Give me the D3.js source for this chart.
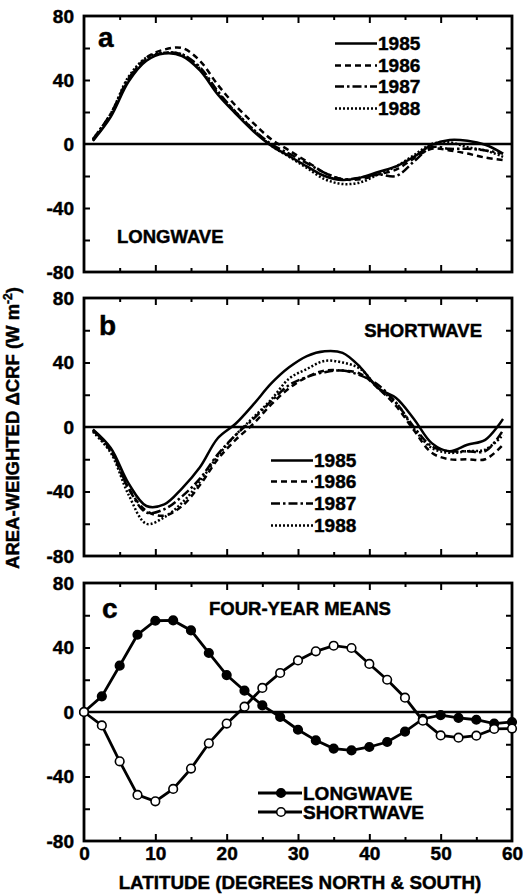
<!DOCTYPE html>
<html><head><meta charset="utf-8">
<script src="https://cdn.jsdelivr.net/npm/d3@7"></script>
<style>
body{margin:0;background:#fff}
svg{display:block}
text{font-family:"Liberation Sans",Arial,Helvetica,sans-serif;font-weight:bold;fill:#000;stroke:#000;stroke-width:0.45px}
</style>
</head><body>
<svg id="chart" width="529" height="896"></svg>
<script>
// ---------- data ----------
const yearLats = [1.25,3.75,6.25,8.75,11.25,13.75,16.25,18.75,21.25,23.75,26.25,28.75,31.25,33.75,36.25,38.75,41.25,43.75,46.25,48.75,51.25,53.75,56.25,58.75];
const years = ["1985","1986","1987","1988"];

const lw1985 = [2,17,39,52,56.5,55,46,31,19,8,-1,-7.5,-14,-20,-22.5,-21,-17.5,-14,-8,-0.5,2.5,2,-0.5,-6];
const lw1986 = [2,18,40,54,59,60,52,37,24,13,3,-4,-11,-18,-22,-22,-19,-16,-9,-3,-4,-6,-8.5,-10];
const lw1987 = [3,19,41,53,57,56,48,33,20,9,0,-6,-12,-18,-22,-21,-19,-20,-11,-2,-3,-3,-4,-6];
const lw1988 = [3,19,42,54,57,56,47,32,20,9,-1,-8,-15,-22,-25,-24,-19,-14,-7,0,1,-2,-4,-8];

const sw1985 = [-1.5,-13,-35,-49,-48,-38,-25,-7,2,14,27,37,44,47,46,37,24,18,5,-10,-15,-11,-8,5];
const sw1986 = [-2,-15,-38,-52,-55,-49,-36,-20,-8,2,14,24,31,35,35,33,24,13,-2,-16,-20,-20,-20,-11];
const sw1987 = [-2,-14,-38,-53,-51,-43,-32,-17,-5,5,16,26,31,34,35,32,26,15,0,-12,-15,-15,-15,-2];
const sw1988 = [-3,-16,-42,-60,-56,-47,-34,-18,-5,6,17,30,36,41,40,36,24,15,-1,-13,-16,-15,-14,-5];

const meanLats = [0,2.5,5,7.5,10,12.5,15,17.5,20,22.5,25,27.5,30,32.5,35,37.5,40,42.5,45,47.5,50,52.5,55,57.5,60];
const lwMean = [0,9.7,28.7,47.9,56.6,56.8,50.6,36.6,22.9,13.2,4.1,-3.1,-11,-17.6,-22.7,-23.8,-21.7,-18.6,-12.2,-4.3,-1.9,-3.7,-4.8,-7.2,-6.2];
const swMean = [0,-8.3,-30.6,-51.4,-55.4,-47.7,-35.1,-19.4,-7.2,3.3,14.9,24.2,32,37.6,41.1,39.7,29.8,20,8.9,-5.4,-14.5,-15.9,-14.7,-10.5,-10.3];

const yTickLabels = [80,40,0,-40,-80];
const xTickLabels = [0,10,20,30,40,50,60];
const panelLetters = ["a","b","c"];
const panelTitles = ["LONGWAVE","SHORTWAVE","FOUR-YEAR MEANS"];
const meanNames = ["LONGWAVE","SHORTWAVE"];

// ---------- layout ----------
const svg = d3.select("#chart");
const x = d3.scaleLinear().domain([0,60]).range([84,512]);
const panels = [
  {y: d3.scaleLinear().domain([-80,80]).range([272,16])},
  {y: d3.scaleLinear().domain([-80,80]).range([556,298])},
  {y: d3.scaleLinear().domain([-80,80]).range([841,583])}
];
const dashes = [null,"6,4","9,3,2.5,3","2,2"];
const styleText = sel => sel.attr("font-size",19).attr("font-family","Liberation Sans, Arial, sans-serif")
  .attr("font-weight","bold").attr("fill","#000");

panels.forEach((p,i)=>{
  const g = svg.append("g");
  const y = p.y;
  const top = y(80), bot = y(-80);
  const ax = (axis, tr) => {
    const a = g.append("g").attr("transform", tr).call(axis);
    a.select(".domain").remove();
    a.selectAll("line").attr("stroke","#000").attr("stroke-width",2);
    return a;
  };
  const minorX = d3.range(5,60,10);
  const majorX = d3.range(10,60,10);
  ax(d3.axisBottom(x).tickValues(majorX).tickSize(-7).tickFormat(""), `translate(0,${bot})`);
  ax(d3.axisBottom(x).tickValues(minorX).tickSize(-4).tickFormat(""), `translate(0,${bot})`);
  ax(d3.axisTop(x).tickValues(majorX).tickSize(-7).tickFormat(""), `translate(0,${top})`);
  ax(d3.axisTop(x).tickValues(minorX).tickSize(-4).tickFormat(""), `translate(0,${top})`);
  const yt = [-60,-40,-20,20,40,60];
  ax(d3.axisLeft(y).tickValues(yt).tickSize(-6).tickFormat(""), `translate(${x(0)},0)`);
  ax(d3.axisRight(y).tickValues(yt).tickSize(-6).tickFormat(""), `translate(${x(60)},0)`);
  const yl = g.append("g").attr("transform",`translate(${x(0)},0)`)
    .call(d3.axisLeft(y).tickValues(yTickLabels).tickSize(0).tickPadding(10).tickFormat(d=>d<0?"-"+Math.abs(d):d));
  yl.select(".domain").remove();
  styleText(yl.selectAll("text"));
  if(i===2){
    const xl = g.append("g").attr("transform",`translate(0,${bot})`)
      .call(d3.axisBottom(x).tickValues(xTickLabels).tickSize(0).tickPadding(6));
    xl.select(".domain").remove();
    styleText(xl.selectAll("text"));
  }
  g.append("line").attr("x1",x(0)).attr("x2",x(60)).attr("y1",y(0)).attr("y2",y(0))
    .attr("stroke","#000").attr("stroke-width",2.3);
  g.append("rect").attr("x",x(0)).attr("y",top).attr("width",x(60)-x(0)).attr("height",bot-top)
    .attr("fill","none").attr("stroke","#000").attr("stroke-width",2.8);
});

// panel letters & titles
const letterPos = [[98,47],[99,335],[102,618]];
panelLetters.forEach((l,i)=>{
  svg.append("text").attr("x",letterPos[i][0]).attr("y",letterPos[i][1]).attr("font-size",28).text(l);
});
const titlePos = [[117,243,"start"],[482,337,"end"],[300,615,"middle"]];
panelTitles.forEach((t,i)=>{
  svg.append("text").attr("x",titlePos[i][0]).attr("y",titlePos[i][1]).attr("text-anchor",titlePos[i][2]).attr("font-size",18.5).text(t);
});

// year curves
const line = (y)=>d3.line().x(d=>x(d[0])).y(d=>y(d[1])).curve(d3.curveCatmullRom);
const lwYears = [lw1985,lw1986,lw1987,lw1988];
const swYears = [sw1985,sw1986,sw1987,sw1988];
[lwYears, swYears].forEach((set,pi)=>{
  const y = panels[pi].y;
  set.map((vals,k)=>({vals,k})).reverse().forEach(({vals,k})=>{
    svg.append("path").attr("d", line(y)(yearLats.map((la,j)=>[la,vals[j]])))
      .attr("fill","none").attr("stroke","#000").attr("stroke-width",2.5)
      .attr("stroke-dasharray",dashes[k]);
  });
});

// legends for a & b
const legA = {x1:335,x2:377,tx:378,rows:[50,72,93,115]};
const legB = {x1:271,x2:313,tx:314,rows:[467,488,510,532]};
[legA,legB].forEach(L=>{
  years.forEach((yr,k)=>{
    const cy = L.rows[k]-6.5;
    svg.append("line").attr("x1",L.x1).attr("x2",L.x2).attr("y1",cy).attr("y2",cy)
      .attr("stroke","#000").attr("stroke-width",2.4).attr("stroke-dasharray",dashes[k]);
    svg.append("text").attr("x",L.tx).attr("y",L.rows[k]).attr("font-size",19).text(yr);
  });
});

// panel c means
const yc = panels[2].y;
const lineC = d3.line().x(d=>x(d[0])).y(d=>yc(d[1]));
const meanSets = [{vals:lwMean,fill:"#000"},{vals:swMean,fill:"#fff"}];
meanSets.forEach(s=>{
  const pts = meanLats.map((la,j)=>[la,s.vals[j]]);
  svg.append("path").attr("d",lineC(pts)).attr("fill","none").attr("stroke","#000").attr("stroke-width",2.8);
});
meanSets.forEach(s=>{
  const pts = meanLats.map((la,j)=>[la,s.vals[j]]);
  svg.append("g").selectAll("circle").data(pts).join("circle")
    .attr("cx",d=>x(d[0])).attr("cy",d=>yc(d[1])).attr("r",4.3)
    .attr("fill",s.fill).attr("stroke","#000").attr("stroke-width",1.6);
});
const legC = [[793,800],[812,819]];
meanSets.forEach((s,k)=>{
  const cy = legC[k][0];
  svg.append("line").attr("x1",258).attr("x2",302).attr("y1",cy).attr("y2",cy).attr("stroke","#000").attr("stroke-width",2.8);
  svg.append("circle").attr("cx",281).attr("cy",cy).attr("r",4.3).attr("fill",s.fill).attr("stroke","#000").attr("stroke-width",1.6);
  svg.append("text").attr("x",303).attr("y",legC[k][1]).attr("font-size",19).text(meanNames[k]);
});

// axis titles
svg.append("text").attr("x",300).attr("y",889).attr("text-anchor","middle").attr("font-size",18.8)
  .text("LATITUDE (DEGREES NORTH & SOUTH)");
const yt = svg.append("text").attr("transform","translate(19,428) rotate(-90)").attr("text-anchor","middle").attr("font-size",18.5);
yt.append("tspan").text("AREA-WEIGHTED \u0394CRF (W m");
yt.append("tspan").attr("font-size",12).attr("dy",-7).text("-2");
yt.append("tspan").attr("dy",7).text(")");
</script>
</body></html>
